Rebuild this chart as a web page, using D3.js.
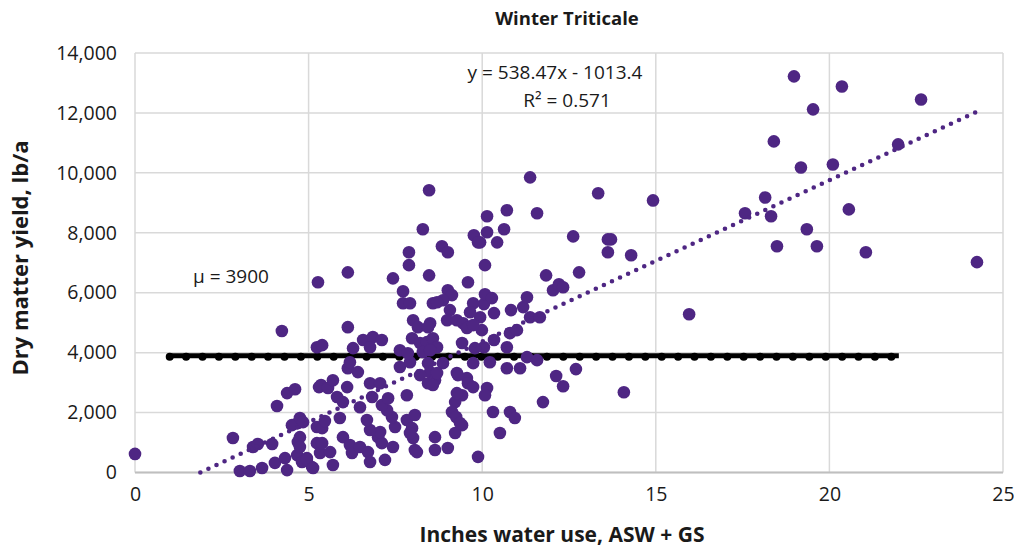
<!DOCTYPE html>
<html>
<head>
<meta charset="utf-8">
<script src="https://cdn.jsdelivr.net/npm/d3@7"></script>
<style>
  body { margin: 0; background: #fff; }
  svg text { font-family: "Open Sans", "Noto Sans", sans-serif; fill: #1a1a1a; }
</style>
</head>
<body>
<svg id="chart" width="1014" height="550"></svg>
<script>
// inches of water use (ASW + GS) for each plot
var waterUse = [
  0.0, 2.82, 3.02, 3.31, 3.66, 4.03, 4.32, 4.38, 4.67, 4.81, 4.95, 5.10, 3.40, 3.54, 3.95, 4.69,
  5.24, 5.24, 4.69, 4.52, 4.09, 4.38, 4.61, 5.30, 4.23, 5.24, 4.75, 4.75, 4.75, 4.95, 5.13, 5.33,
  5.39, 5.62, 5.70, 5.39, 5.47, 4.84, 5.90, 5.36, 5.56, 6.11, 5.82, 5.99, 5.70, 6.48, 5.99, 6.19,
  6.25, 6.48, 6.71, 6.77, 7.20, 7.00, 7.11, 7.43, 7.06, 6.77, 6.68, 7.49, 7.40, 7.26, 7.11, 7.29,
  6.83, 6.77, 7.06, 7.83, 7.83, 8.06, 7.98, 8.01, 8.06, 6.13, 6.42, 6.19, 7.63, 7.92, 8.44, 8.50,
  8.21, 8.44, 8.64, 8.58, 8.87, 8.70, 9.27, 9.74, 10.22, 9.56, 9.30, 9.59, 9.74, 10.14, 10.08, 9.42,
  9.22, 9.13, 9.25, 9.42, 9.22, 8.64, 8.64, 9.01, 9.88, 10.31, 10.80, 10.94, 10.51, 11.75, 10.71, 11.09,
  11.29, 11.58, 10.71, 10.34, 9.99, 10.80, 11.00, 10.34, 9.94, 10.05, 10.08, 10.83, 11.18, 11.29, 11.38, 11.66,
  12.04, 12.21, 12.33, 11.84, 12.79, 12.70, 12.13, 12.33, 14.08, 15.96, 12.62, 13.62, 13.71, 13.62, 14.29, 13.34,
  14.92, 11.38, 11.58, 10.71, 10.14, 10.14, 10.63, 10.43, 9.94, 10.08, 9.76, 9.88, 8.47, 8.29, 8.84, 9.01,
  7.89, 7.89, 8.47, 5.27, 6.13, 7.43, 9.59, 7.72, 9.01, 9.13, 7.72, 7.92, 8.58, 8.87, 9.74, 10.28,
  8.70, 9.07, 9.65, 8.99, 9.27, 9.45, 9.56, 9.74, 8.50, 8.01, 8.15, 8.44, 6.13, 7.98, 8.21, 8.41,
  8.58, 8.70, 9.42, 10.05, 9.79, 6.57, 6.85, 7.11, 6.77, 6.28, 5.39, 7.63, 7.86, 8.29, 8.50, 7.92,
  8.12, 9.36, 9.27, 18.98, 20.36, 22.64, 19.53, 18.40, 21.98, 19.18, 20.10, 18.15, 17.57, 18.32, 20.56, 19.35,
  18.49, 19.64, 21.05, 24.25
];

// dry matter yield, lb/a, same order as waterUse
var dmYield = [
  620, 1150, 50, 50, 150, 320, 480, 80, 580, 350, 480, 180, 850, 950, 950, 1020,
  980, 1520, 1650, 1580, 2220, 2650, 2780, 2850, 4720, 4180, 1820, 1180, 850, 420, 150, 650,
  980, 680, 250, 1480, 1720, 1680, 1820, 2920, 2820, 2850, 2520, 2350, 3080, 2180, 1180, 920,
  650, 850, 680, 350, 420, 1180, 980, 850, 1350, 1420, 1750, 1520, 1850, 2080, 2250, 2480,
  2520, 2980, 2980, 2580, 1750, 1920, 1480, 1150, 750, 3480, 3350, 3680, 3520, 3680, 3650, 3350,
  3250, 2980, 3080, 2920, 3650, 3320, 3320, 3650, 3680, 3150, 3250, 2980, 2850, 2820, 2580, 2580,
  2350, 2020, 1850, 1580, 1320, 1180, 750, 820, 520, 2020, 2020, 1820, 1320, 2350, 3480, 3480,
  3850, 3750, 4180, 4420, 4750, 4650, 4750, 5320, 5180, 5620, 5950, 5420, 5520, 5850, 5180, 5180,
  6080, 6280, 6180, 6580, 6680, 3450, 3220, 2880, 2680, 5280, 7880, 7780, 7780, 7350, 7250, 9320,
  9080, 9850, 8650, 8750, 8550, 8020, 8120, 7680, 7680, 6920, 7920, 7680, 9420, 8120, 7550, 7350,
  7350, 6920, 6580, 6350, 6680, 6480, 6350, 6050, 6080, 5920, 5650, 5650, 5650, 5750, 5650, 5820,
  5680, 5420, 5350, 5080, 5080, 4980, 4820, 4920, 4980, 5080, 4850, 4850, 4850, 4480, 4320, 4350,
  4480, 4180, 4320, 4180, 4150, 4420, 4520, 4420, 4180, 4150, 4250, 4080, 3980, 4020, 4080, 1320,
  680, 1650, 2650, 13220, 12880, 12450, 12120, 11050, 10950, 10180, 10280, 9180, 8650, 8550, 8780, 8120,
  7550, 7550, 7350, 7020
];

var xTicks = [0, 5, 10, 15, 20, 25];
var yTicks = [0, 2000, 4000, 6000, 8000, 10000, 12000, 14000];

// linear trendline and mean line from the source chart
var trendSlope = 538.47;
var trendIntercept = -1013.4;
var meanYield = 3900;
var meanRange = [1, 22];

var chartTitle = "Winter Triticale";
var xTitle = "Inches water use, ASW + GS";
var yTitle = "Dry matter yield, lb/a";
var eqLabel = "y = 538.47x - 1013.4";
var r2Label = "R\u00b2 = 0.571";
var meanLabel = "\u03bc = 3900";

var purple = "#4e2683";
var margin = {top: 53, right: 11, bottom: 77.5, left: 135};
var width = 1014 - margin.left - margin.right;
var height = 550 - margin.top - margin.bottom;

var svg = d3.select("#chart");
var g = svg.append("g")
    .attr("transform", "translate(" + margin.left + "," + margin.top + ")");

var x = d3.scaleLinear().domain([0, 25]).range([0, width]);
var y = d3.scaleLinear().domain([0, 14000]).range([height, 0]);

// gridlines
g.append("g")
    .attr("class", "grid")
    .selectAll("line.h")
    .data(yTicks)
    .enter()
    .append("line")
    .attr("x1", 0)
    .attr("x2", width)
    .attr("y1", function (d) { return y(d); })
    .attr("y2", function (d) { return y(d); })
    .attr("stroke", "#d9d9d9")
    .attr("stroke-width", 1.5);

g.append("g")
    .selectAll("line.v")
    .data(xTicks)
    .enter()
    .append("line")
    .attr("x1", function (d) { return x(d); })
    .attr("x2", function (d) { return x(d); })
    .attr("y1", 0)
    .attr("y2", height)
    .attr("stroke", "#d9d9d9")
    .attr("stroke-width", 1.5);

// axes (labels only, lines drawn separately)
var yAxis = g.append("g")
    .call(d3.axisLeft(y).tickValues(yTicks).tickFormat(d3.format(",")).tickSize(0).tickPadding(18));
yAxis.select(".domain").remove();
yAxis.selectAll("text")
    .style("font-size", "19.5px")
    .attr("fill", "#1a1a1a");

var xAxis = g.append("g")
    .attr("transform", "translate(0," + height + ")")
    .call(d3.axisBottom(x).tickValues(xTicks).tickSize(0).tickPadding(15));
xAxis.select(".domain").remove();
xAxis.selectAll("text")
    .style("font-size", "19.5px")
    .attr("fill", "#1a1a1a");

g.append("line")
    .attr("x1", 0).attr("x2", width)
    .attr("y1", height).attr("y2", height)
    .attr("stroke", "#bfbfbf")
    .attr("stroke-width", 2);

// mean line: thick black line with round markers
var meanLine = d3.line()
    .x(function (d) { return x(d); })
    .y(function () { return y(meanYield); });

g.append("path")
    .datum(meanRange)
    .attr("d", meanLine)
    .attr("stroke", "#000")
    .attr("stroke-width", 5)
    .attr("fill", "none");

g.append("path")
    .datum(meanRange)
    .attr("d", meanLine)
    .attr("transform", "translate(0,1.2)")
    .attr("stroke", "#000")
    .attr("stroke-width", 8)
    .attr("stroke-linecap", "round")
    .attr("stroke-dasharray", "0 16.4")
    .attr("fill", "none");

// scatter points
var pts = waterUse.map(function (d, i) { return [d, dmYield[i]]; });

g.selectAll("circle.pt")
    .data(pts)
    .enter()
    .append("circle")
    .attr("class", "pt")
    .attr("cx", function (d) { return x(d[0]); })
    .attr("cy", function (d) { return y(d[1]); })
    .attr("r", 6.3)
    .style("fill", purple);

// dotted trendline, clipped at y = 0
var tStart = Math.max(0, -trendIntercept / trendSlope);
var tEnd = d3.max(waterUse);
g.append("path")
    .datum([tStart, tEnd])
    .attr("d", d3.line()
        .x(function (d) { return x(d); })
        .y(function (d) { return y(trendSlope * d + trendIntercept); }))
    .attr("stroke", purple)
    .attr("stroke-width", 4.6)
    .attr("stroke-linecap", "round")
    .attr("stroke-dasharray", "0 8.9")
    .attr("fill", "none");

// labels
svg.append("text")
    .text(chartTitle)
    .attr("x", 567)
    .attr("y", 25)
    .attr("text-anchor", "middle")
    .style("font-size", "18.5px")
    .style("font-weight", "700");

svg.append("text")
    .text(xTitle)
    .attr("x", 562)
    .attr("y", 542)
    .attr("text-anchor", "middle")
    .style("font-size", "21px")
    .style("font-weight", "700");

svg.append("text")
    .text(yTitle)
    .attr("text-anchor", "middle")
    .attr("transform", "translate(28,258) rotate(-90)")
    .style("font-size", "22px")
    .style("font-weight", "700");

svg.append("text")
    .text(eqLabel)
    .attr("x", 555)
    .attr("y", 79)
    .attr("text-anchor", "middle")
    .style("font-size", "19px");

svg.append("text")
    .text(r2Label)
    .attr("x", 567)
    .attr("y", 107)
    .attr("text-anchor", "middle")
    .style("font-size", "19px");

svg.append("text")
    .text(meanLabel)
    .attr("x", 193)
    .attr("y", 283)
    .style("font-size", "19px");
</script>
</body>
</html>
